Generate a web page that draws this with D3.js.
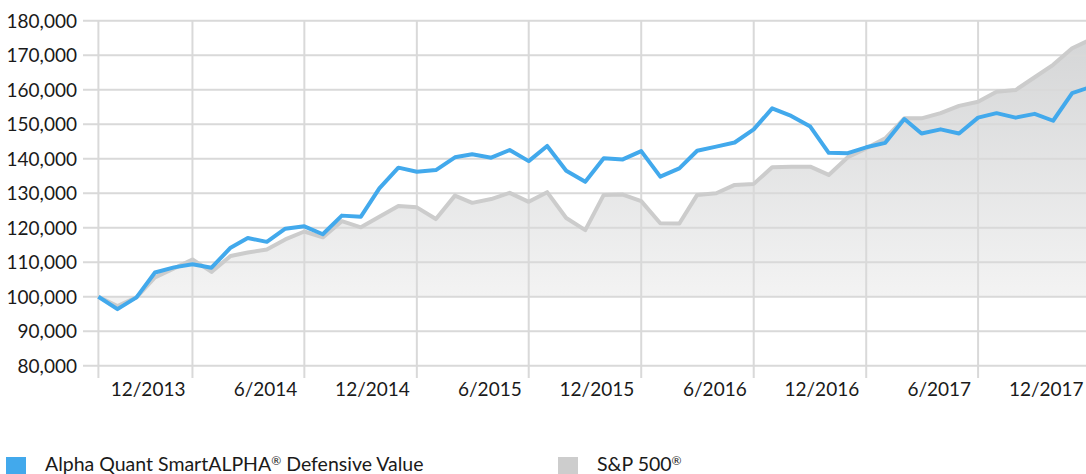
<!DOCTYPE html>
<html>
<head>
<meta charset="utf-8">
<script src="https://cdn.jsdelivr.net/npm/d3@7"></script>
<style>
  html, body { margin: 0; padding: 0; background: #fff; }
  svg { display: block; font-family: Lato, "Open Sans", sans-serif; }
</style>
</head>
<body>
<svg id="chart" width="1086" height="474"></svg>
<script>
// monthly values, 7/2013 .. 12/2017
const startMonth = new Date(2013, 6, 1);

const fundValues = [
  100000, 96400, 99800, 107000, 108500, 109400, 108400, 114200, 117000, 115900,
  119700, 120400, 118100, 123500, 123200, 131400, 137400, 136200, 136700, 140400,
  141300, 140300, 142500, 139300, 143700, 136500, 133300, 140100, 139800, 142200,
  134800, 137200, 142300, 143500, 144700, 148500, 154600, 152400, 149300, 141700,
  141600, 143300, 144600, 151500, 147300, 148500, 147300, 151900, 153200, 151900,
  153000, 151000, 159000, 160800
];

const spxValues = [
  100000, 97300, 99800, 105600, 108200, 110800, 107200, 111800, 112800, 113700,
  116600, 118900, 117200, 121900, 120100, 123200, 126300, 125900, 122500, 129300,
  127200, 128300, 130100, 127500, 130300, 122800, 119300, 129500, 129600, 127700,
  121300, 121200, 129500, 130000, 132400, 132700, 137500, 137700, 137700, 135300,
  140400, 143000, 145900, 151700, 151700, 153200, 155300, 156500, 159400, 159900,
  163600, 167200, 172000, 174500
];

const yTicks = [80000, 90000, 100000, 110000, 120000, 130000, 140000, 150000, 160000, 170000, 180000];
// name split so the ® can be drawn as a superscript
const seriesNames = [["Alpha Quant SmartALPHA", " Defensive Value"], ["S&P 500", ""]];

const months = fundValues.map((v, i) => d3.timeMonth.offset(startMonth, i));
const tickMonths = months.filter(d => d.getMonth() === 11 || d.getMonth() === 5);

const blue = "#42a9ec";
const grey = "#cccccc";
const gridColor = "#d9d9d9";
const textColor = "#1a1a1a";

const svg = d3.select("#chart");

const x = d3.scaleTime()
  .domain([months[0], months[months.length - 1]])
  .range([98.4, 1090.6]);

const y = d3.scaleLinear()
  .domain([80000, 180000])
  .range([365.7, 20.7]);

const fmt = d3.format(",");

// area gradient
const defs = svg.append("defs");
const grad = defs.append("linearGradient")
  .attr("id", "areaGrad")
  .attr("gradientUnits", "userSpaceOnUse")
  .attr("x1", 0).attr("x2", 0)
  .attr("y1", y(175000)).attr("y2", y(100000));
grad.append("stop").attr("offset", "0%").attr("stop-color", "#d5d6d7");
grad.append("stop").attr("offset", "100%").attr("stop-color", "#f3f3f3");

// S&P area down to the 100,000 line
const area = d3.area()
  .x((d, i) => x(months[i]))
  .y0(y(100000))
  .y1(d => y(d));

svg.append("path")
  .datum(spxValues)
  .attr("fill", "url(#areaGrad)")
  .attr("d", area);

// horizontal grid + y labels
const yAxis = svg.append("g");
yAxis.selectAll("line")
  .data(yTicks)
  .join("line")
    .attr("x1", 83).attr("x2", 1086)
    .attr("y1", d => y(d)).attr("y2", d => y(d))
    .attr("stroke", gridColor)
    .attr("stroke-width", 2);

yAxis.selectAll("text")
  .data(yTicks)
  .join("text")
    .attr("x", 77)
    .attr("y", d => y(d))
    .attr("dy", "0.36em")
    .attr("text-anchor", "end")
    .attr("fill", textColor)
    .attr("font-size", 19)
    .text(d => fmt(d));

// vertical grid + x labels
const xAxis = svg.append("g");
xAxis.selectAll("line")
  .data([months[0]].concat(tickMonths))
  .join("line")
    .attr("x1", d => x(d)).attr("x2", d => x(d))
    .attr("y1", y(180000)).attr("y2", 378)
    .attr("stroke", gridColor)
    .attr("stroke-width", 2);

xAxis.selectAll("text")
  .data(tickMonths)
  .join("text")
    .attr("x", d => x(d) - 7)
    .attr("y", 395.7)
    .attr("text-anchor", "end")
    .attr("fill", textColor)
    .attr("font-size", 19)
    .text(d => (d.getMonth() + 1) + "/" + d.getFullYear());

// lines
const line = d3.line()
  .x((d, i) => x(months[i]))
  .y(d => y(d));

svg.append("path")
  .datum(spxValues)
  .attr("fill", "none")
  .attr("stroke", grey)
  .attr("stroke-width", 4)
  .attr("stroke-linejoin", "round")
  .attr("d", line);

svg.append("path")
  .datum(fundValues)
  .attr("fill", "none")
  .attr("stroke", blue)
  .attr("stroke-width", 4)
  .attr("stroke-linejoin", "round")
  .attr("d", line);

// legend
const legendX = [6, 558];
const legendColors = [blue, "#cdcdcd"];
const legend = svg.append("g")
  .selectAll("g")
  .data(seriesNames)
  .join("g")
    .attr("transform", (d, i) => `translate(${legendX[i]},457)`);

legend.append("rect")
  .attr("width", 20).attr("height", 20)
  .attr("fill", (d, i) => legendColors[i]);

const legendText = legend.append("text")
  .attr("x", 39)
  .attr("y", 14)
  .attr("fill", textColor)
  .attr("font-size", 19.5);

legendText.append("tspan").text(d => d[0]);
legendText.append("tspan")
  .attr("font-size", 12)
  .attr("dy", -6)
  .text("\u00ae");
legendText.append("tspan")
  .attr("dy", 6)
  .text(d => d[1]);
</script>
</body>
</html>
